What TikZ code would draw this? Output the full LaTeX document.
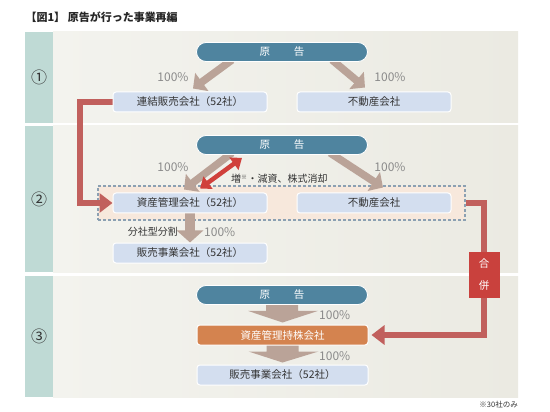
\documentclass[tikz,border=0pt]{standalone}
\usepackage{fontspec}
\setmainfont{Noto Sans CJK JP}
\usetikzlibrary{positioning,arrows.meta,calc}
\definecolor{colbar}{HTML}{BFDAD5}
\definecolor{bandA}{HTML}{F3F3EE}
\definecolor{bandB}{HTML}{EBEAE2}
\definecolor{pillblue}{HTML}{4F849F}
\definecolor{boxblue}{HTML}{D3DEEF}
\definecolor{holdorange}{HTML}{D4834F}
\definecolor{tanarrow}{HTML}{BAA398}
\definecolor{mergeline}{HTML}{C1605D}
\definecolor{mergebox}{HTML}{C9413D}
\definecolor{capred}{HTML}{D0403B}
\definecolor{peach}{HTML}{F7E8DC}
\definecolor{dashblue}{HTML}{8BA0B2}
\definecolor{textdark}{HTML}{333333}
\definecolor{pctgray}{HTML}{8A8A8A}
\pgfdeclarelayer{back}
\pgfdeclarelayer{mid}
\pgfsetlayers{back,mid,main}

\begin{document}
\begin{tikzpicture}[x=1pt,y=-1pt,
    kaisha/.style={draw=white,line width=1pt,fill=boxblue,rounded corners=3pt,
      minimum width=154pt,minimum height=20pt,inner sep=0pt,text=textdark,
      font=\fontsize{10.5}{12}\selectfont},
    genkoku/.style={fill=pillblue,draw=white,line width=0.8pt,rounded corners=9.5pt,
      minimum width=171pt,minimum height=19pt,inner sep=0pt,text=white,
      font=\fontsize{10.5}{12}\selectfont},
    pct/.style={text=pctgray,font=\fontsize{12}{12}\selectfont,inner sep=0pt},
    share/.style={draw=tanarrow,line width=7.5pt,-{Triangle[length=11pt,width=22pt]}},
    gappei/.style={draw=mergeline,line width=6pt,-{Triangle[length=13pt,width=19pt]}},
    zougen/.style={draw=capred,line width=4.5pt,{Triangle[length=10pt,width=15pt]}-{Triangle[length=10pt,width=15pt]}},
    blockarrow/.style={fill=tanarrow}]
  \useasboundingbox (0,0) rectangle (550,412);

  \node[anchor=west,text=black!85,font=\bfseries\fontsize{11}{12}\selectfont] (title) at (22,17) {【図1】 原告が行った事業再編};

  % bands
  \begin{pgfonlayer}{back}
    \fill[white] (0,0) rectangle (550,412);
    \foreach \ya/\yb/\lbl in {32/123/①,126/272/②,276/397/③}{
      \fill[colbar] (25,\ya) rectangle (53,\yb);
      \shade[left color=bandA,right color=bandB] (53,\ya) rectangle (518,\yb);
      \node[text=textdark,font=\fontsize{16}{16}\selectfont] at (39,{(\ya+\yb)/2}) {\lbl};
    }
    \node[draw=dashblue,fill=peach,line width=1.3pt,dash pattern=on 3pt off 2pt,
      minimum width=367pt,minimum height=34pt] (kabu) at (281.5,203) {};
  \end{pgfonlayer}

  % (1)
  \node[genkoku] (gen1) at (282,52) {原\hspace{24pt}告};
  \node[kaisha] (hanbai1) at (190,102) {連結販売会社（52社）};
  \node[kaisha] (fudo1) at (374,102) {不動産会社};
  \node[pct] (p1a) at (173,77) {100\%};
  \node[pct] (p1b) at (390,77) {100\%};

  % (2)
  \node[genkoku] (gen2) at (282,145) {原\hspace{24pt}告};
  \node[kaisha] (shisan) at (190,203) {資産管理会社（52社）};
  \node[kaisha] (fudo2) at (374,203) {不動産会社};
  \node[kaisha] (hanbai2) at (190,253) {販売事業会社（52社）};
  \node[pct] (p2a) at (173,167) {100\%};
  \node[pct] (p2b) at (390,167) {100\%};
  \node[text=textdark,anchor=west,inner sep=0pt,font=\fontsize{10}{10}\selectfont] (gensi) at (231,179) {増\textsuperscript{\fontsize{6}{6}\selectfont ※}・減資、株式消却};
  \node[text=textdark,anchor=east,inner sep=0pt,font=\fontsize{10}{10}\selectfont] (bunkatsu) at (178,232) {分社型分割};
  \node[pct,anchor=west] (p2c) at (204,232) {100\%};
  \node[fill=mergebox,text=white,align=center,minimum width=31pt,minimum height=46pt,
    inner sep=0pt,font=\fontsize{10.5}{22}\selectfont] (gp) at (484,275) {合\\併};

  % (3)
  \node[genkoku] (gen3) at (282,295) {原\hspace{24pt}告};
  \node[kaisha,fill=holdorange,text=white,minimum width=171pt] (mochikabu) at (282.5,335) {資産管理持株会社};
  \node[kaisha,minimum width=171pt] (hanbai3) at (282.5,375) {販売事業会社（52社）};
  \node[pct,anchor=west] (p3a) at (319,315) {100\%};
  \node[pct,anchor=west] (p3b) at (319,356) {100\%};

  \node[text=textdark,anchor=east,inner sep=0pt,font=\fontsize{7.5}{8}\selectfont] (chu) at (518,405) {※30社のみ};

  \begin{pgfonlayer}{mid}
    \draw[share] ($(gen1.south)+(-50,-2)$) -- ($(hanbai1.north)+(3,-3)$);
    \draw[share] ($(gen1.south)+(50,-2)$) -- ($(fudo1.north)+(-9,-4)$);
    \draw[share] ($(gen2.south)+(-50,-2)$) -- ($(shisan.north)+(-6,-3)$);
    \draw[share] ($(gen2.south)+(48,-2)$) -- ($(fudo2.north)+(9,-5)$);
    \draw[share,line width=10pt,-{Triangle[length=12pt,width=26pt]}] (shisan.south) -- (hanbai2.north);
    \draw[zougen] ($(gen2.south)+(-40,3)$) -- ($(shisan.north)+(10,-4)$);
    \foreach \a/\b in {gen3/mochikabu,mochikabu/hanbai3}
      \fill[blockarrow] ($(\a.south)+(-16,-1)$) -- ($(\a.south)+(-16,6)$) -- ($(\a.south)+(-34,6)$)
        -- ($(\b.north)+(0,-2)$) -- ($(\a.south)+(36,6)$) -- ($(\a.south)+(16,6)$)
        -- ($(\a.south)+(16,-1)$) -- cycle;
    \draw[gappei] (hanbai1.west) -- ++(-33,0) |- (shisan.west);
    \draw[gappei,-] (kabu.east) -| (gp.north);
    \draw[gappei,shorten >=3pt] (gp.south) |- (mochikabu.east);
  \end{pgfonlayer}
\end{tikzpicture}
\end{document}
